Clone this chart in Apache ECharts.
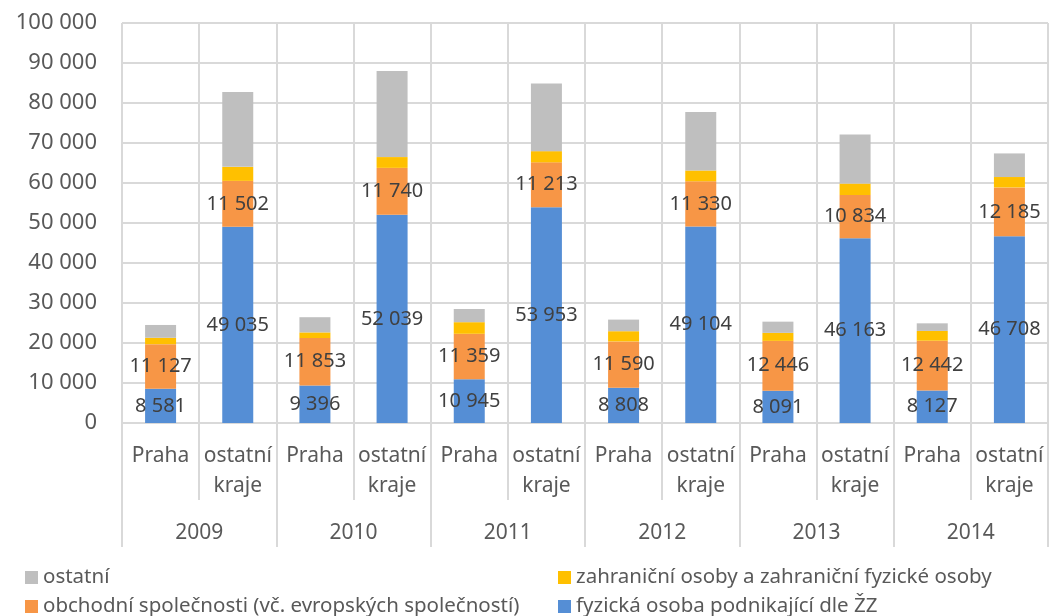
<!DOCTYPE html>
<html>
<head>
<meta charset="utf-8">
<script src="https://cdn.jsdelivr.net/npm/echarts@6/dist/echarts.min.js"></script>
<style>
  html, body { margin: 0; padding: 0; background: #fff; }
  #chart { width: 1050px; height: 616px; }
</style>
</head>
<body>
<div id="chart"></div>
<script>
var categories = ['Praha', 'ostatní\nkraje', 'Praha', 'ostatní\nkraje', 'Praha', 'ostatní\nkraje',
                  'Praha', 'ostatní\nkraje', 'Praha', 'ostatní\nkraje', 'Praha', 'ostatní\nkraje'];
var years = ['2009', '2010', '2011', '2012', '2013', '2014'];

var fyzicka = [8581, 49035, 9396, 52039, 10945, 53953, 8808, 49104, 8091, 46163, 8127, 46708];
var obchodni = [11127, 11502, 11853, 11740, 11359, 11213, 11590, 11330, 12446, 10834, 12442, 12185];
// odhad z obrázku
var zahranicni = [1600, 3500, 1400, 2700, 2900, 2800, 2550, 2700, 2000, 2850, 2450, 2600];
var ostatni = [3200, 18700, 3800, 21500, 3300, 16900, 2900, 14600, 2800, 12250, 1900, 5900];

var names = [
    'fyzická osoba podnikající dle ŽZ',
    'obchodní společnosti (vč. evropských společností)',
    'zahraniční osoby a zahraniční fyzické osoby',
    'ostatní'
];

function fmt(v) {
    return String(v).replace(/\B(?=(\d{3})+(?!\d))/g, ' ');
}

var font = 'Noto Sans';
var labelStyle = {
    show: true,
    position: 'inside',
    color: '#404040',
    fontFamily: font,
    fontSize: 20,
    formatter: function (p) { return fmt(p.value); }
};

function bar(name, data, color, label) {
    return {
        name: name,
        type: 'bar',
        stack: 'a',
        barWidth: 31,
        data: data,
        itemStyle: { color: color },
        label: label ? labelStyle : { show: false },
        emphasis: { disabled: true }
    };
}

// jedna legenda na polozku, rozlozeni 2x2 jako v Excelu
function legend(left, top, name) {
    return {
        left: left,
        top: top,
        padding: 0,
        icon: 'rect',
        itemWidth: 13,
        itemHeight: 13,
        textStyle: { color: '#595959', fontFamily: font, fontSize: 20.5, lineHeight: 20 },
        data: [name]
    };
}

var option = {
    animation: false,
    grid: { left: 122, right: 2, top: 23, bottom: 193 },
    legend: [
        legend(25, 567, names[3]),
        legend(558, 567, names[2]),
        legend(25, 596, names[1]),
        legend(558, 596, names[0])
    ],
    xAxis: [{
        type: 'category',
        data: categories,
        axisLine: { lineStyle: { color: '#d9d9d9', width: 1 } },
        axisTick: { show: true, length: 77, lineStyle: { color: '#d9d9d9', width: 2 } },
        splitLine: { show: true, lineStyle: { color: '#d9d9d9', width: 2 } },
        axisLabel: {
            color: '#595959',
            fontFamily: font,
            fontSize: 21,
            lineHeight: 30,
            margin: 18,
            interval: 0
        }
    }, {
        type: 'category',
        data: years,
        position: 'bottom',
        axisLine: { show: false },
        axisTick: { show: true, length: 124, lineStyle: { color: '#d9d9d9', width: 2 } },
        splitLine: { show: false },
        axisLabel: {
            color: '#595959',
            fontFamily: font,
            fontSize: 21,
            margin: 100,
            interval: 0
        }
    }],
    yAxis: {
        type: 'value',
        min: 0,
        max: 100000,
        interval: 10000,
        axisLine: { show: false },
        axisTick: { show: false },
        splitLine: { lineStyle: { color: '#d9d9d9', width: 2 } },
        axisLabel: {
            color: '#595959',
            fontFamily: font,
            fontSize: 22,
            margin: 25,
            formatter: fmt
        }
    },
    series: [
        bar(names[0], fyzicka, '#558ed5', true),
        bar(names[1], obchodni, '#f79646', true),
        bar(names[2], zahranicni, '#ffc000', false),
        bar(names[3], ostatni, '#bfbfbf', false)
    ]
};

var chart = echarts.init(document.getElementById('chart'));
chart.setOption(option);
</script>
</body>
</html>
